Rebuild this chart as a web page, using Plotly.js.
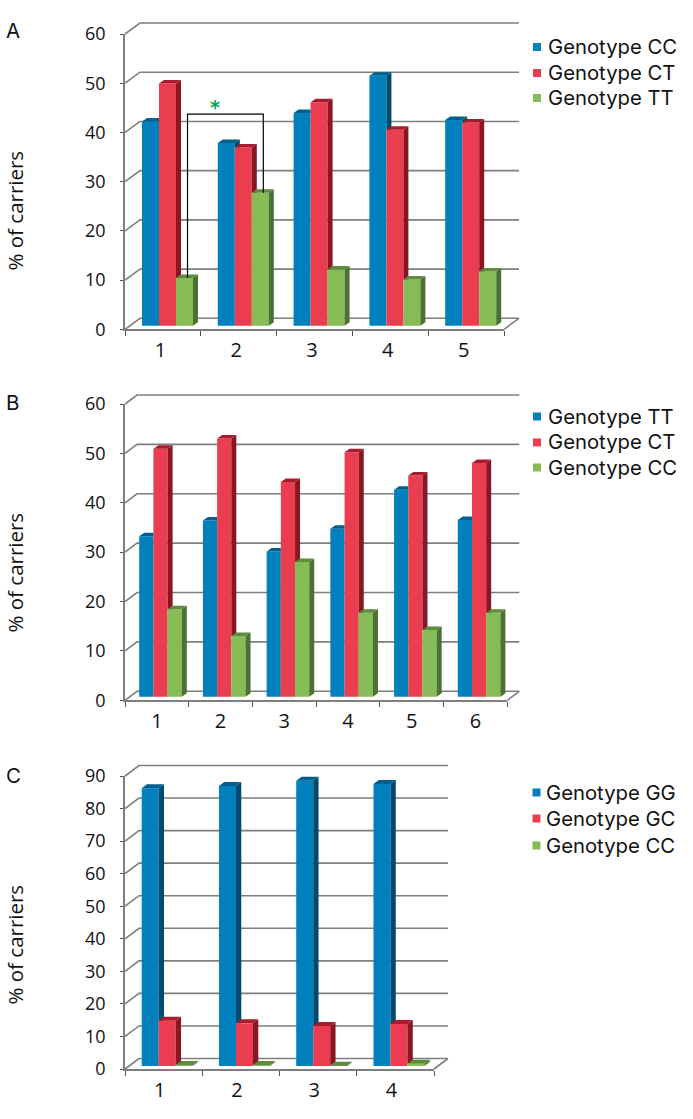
<!DOCTYPE html>
<html>
<head>
<meta charset="utf-8">
<script src="https://cdn.plot.ly/plotly-3.0.1.min.js"></script>
<style>html,body{margin:0;padding:0;background:#fff}</style>
</head>
<body>
<div id="chart" style="width:693px;height:1119px"></div>
<script>
// ---------- data ----------
const categoriesA = ['1','2','3','4','5'];
const namesA = ['Genotype CC','Genotype CT','Genotype TT'];
const valuesA_CC = [41.5,37.1,43.2,50.8,41.8];
const valuesA_CT = [49.2,36.2,45.4,39.8,41.3];
const valuesA_TT = [9.7,27.0,11.4,9.4,11.0];

const categoriesB = ['1','2','3','4','5','6'];
const namesB = ['Genotype TT','Genotype CT','Genotype CC'];
const valuesB_TT = [32.5,35.7,29.4,34.0,41.9,35.8];
const valuesB_CT = [50.2,52.3,43.5,49.5,44.8,47.3];
const valuesB_CC = [17.7,12.3,27.3,17.0,13.5,17.0];

const categoriesC = ['1','2','3','4'];
const namesC = ['Genotype GG','Genotype GC','Genotype CC'];
const valuesC_GG = [85.3,86.0,87.6,86.6];
const valuesC_GC = [13.9,13.1,12.3,12.9];
const valuesC_CC = [0.3,0.3,0.1,0.7];

const yTicksA = [0,10,20,30,40,50,60];
const yTicksB = [0,10,20,30,40,50,60];
const yTicksC = [0,10,20,30,40,50,60,70,80,90];

const panelLetters = ['A','B','C'];
const yTitle = '% of carriers';
const bracketLevelA = 43.0;   // height of the significance bracket, panel A
const bracketGroupsA = [0,1]; // compared groups (indices), panel A
const bracketStar = '*';

// ---------- styling / geometry ----------
const W = 693, H = 1119;
const front = ['#0080BC','#EA3D4F','#86BB55'];
const side  = ['#00496F','#8A1624','#4B7232'];
const top_  = ['#005F8E','#A81C2E','#5C8C3C'];
const GRID = '#7f7f7f', TICK = '#555555';
const yTickFont = {family:'"Open Sans", sans-serif', size:18, color:'#111'};
const xTickFont = {family:'"Open Sans", sans-serif', size:20, color:'#111'};
const legendFont = {family:'Inter, sans-serif', size:20.3, color:'#111'};

const panels = [
 {cats:categoriesA,names:namesA,vals:[valuesA_CC,valuesA_CT,valuesA_TT],ticks:yTicksA,
  L:125,R:504,Y0:329.3,Ytop:34,wallDx:15,wallDy:11,barW:17,shift:4.6,base:3.6,dDx:5,dDy:3.5,labelShift:-2.5,
  legX:533,legTextX:547,legY:[46.5,72.5,97.5],titleY:211,letterY:31},
 {cats:categoriesB,names:namesB,vals:[valuesB_TT,valuesB_CT,valuesB_CC],ticks:yTicksB,
  L:125,R:507.3,Y0:700.3,Ytop:404,wallDx:12,wallDy:9,barW:14.2,shift:3.65,base:3.6,dDx:5,dDy:3.5,labelShift:0,
  legX:533,legTextX:547,legY:[416,442,467],titleY:573,letterY:403},
 {cats:categoriesC,names:namesC,vals:[valuesC_GG,valuesC_GC,valuesC_CC],ticks:yTicksC,
  L:125,R:434,Y0:1069,Ytop:776,wallDx:14,wallDy:10.5,barW:17,shift:3.6,base:3,dDx:5.3,dDy:4,labelShift:-4,
  legX:532.5,legTextX:545,legY:[792,818,845],titleY:945,letterY:775}
];

const traces = [], layout = {
  width:W, height:H, margin:{l:0,r:0,t:0,b:0}, showlegend:false,
  barmode:'overlay', paper_bgcolor:'#fff', plot_bgcolor:'rgba(0,0,0,0)',
  annotations:[], shapes:[]
};
const px = x => x/W, py = y => 1-y/H;

panels.forEach((p,idx)=>{
  const n = p.cats.length, yMax = p.ticks[p.ticks.length-1];
  const ax = idx===0 ? '' : String(idx+1);
  const sx = (p.R-p.L)/n, sy = (p.Y0-p.Ytop)/yMax;
  const xRange = [0.5,n+0.5];
  const catVals = p.cats.map((c,i)=>i+1);
  const bounds = []; for(let i=0;i<=n;i++) bounds.push(i+0.5);

  layout['xaxis'+ax] = {
    domain:[px(p.L),px(p.R)], range:xRange, anchor:'y'+ax, zeroline:false, showgrid:false,
    showline:true, linecolor:GRID, linewidth:1.5, fixedrange:true,
    tickmode:'array', tickvals:catVals.map(c=>c+p.labelShift/sx), ticktext:p.cats, ticks:'', tickfont:xTickFont, ticklabelstandoff:2,
    minor:{tickmode:'array', tickvals:bounds, ticks:'outside', ticklen:5, tickwidth:1, tickcolor:TICK, showgrid:false}
  };
  layout['yaxis'+ax] = {
    domain:[py(p.Y0),py(p.Ytop)], range:[0,yMax], anchor:'x'+ax, zeroline:false, showgrid:false,
    showline:true, linecolor:GRID, linewidth:1.5, fixedrange:true,
    tickmode:'array', tickvals:p.ticks, ticktext:p.ticks.map(String), ticks:'outside', ticklen:3, tickwidth:1, tickcolor:TICK,
    tickfont:yTickFont, ticklabelstandoff:11
  };

  // back wall, side wall and floor, placed from the tick values
  const wallLine = {color:GRID,width:1.6};
  p.ticks.forEach(t=>{
    const yF = p.Y0-t*sy, yB = yF-p.wallDy;
    layout.shapes.push({type:'path',xref:'paper',yref:'paper',layer:'below',line:wallLine,
      path:`M${px(p.L)},${py(yF)} L${px(p.L+p.wallDx)},${py(yB)} L${px(p.R+p.wallDx)},${py(yB)}`});
  });
  layout.shapes.push({type:'line',xref:'paper',yref:'paper',layer:'below',line:wallLine,
    x0:px(p.R),y0:py(p.Y0),x1:px(p.R+p.wallDx),y1:py(p.Y0-p.wallDy)});

  // 3D bars
  const w = p.barW/sx, dx = p.dDx/sx, dy = p.dDy/sy, base = p.base/sy, sh = p.shift/sx;
  const xa = 'x'+ax, ya = 'y'+ax;
  const leftOf = (k,s) => (k+1)+sh+(s-1.5)*w;
  p.vals.forEach((vals,s)=>{
    traces.push({type:'bar',name:p.names[s],x:catVals.map((c,k)=>leftOf(k,s)+w/2),y:vals,base:base,width:w,
      xaxis:xa,yaxis:ya,marker:{color:front[s],line:{width:0}},hoverinfo:'y+name',showlegend:false});
  });
  p.vals.forEach((vals,s)=>{
    const next = p.vals[s+1];
    const sX=[],sY=[],tX=[],tY=[];
    vals.forEach((v,k)=>{
      const xl=leftOf(k,s), xr=xl+w, T=base+v;
      const L = next ? base+next[k] : base;
      if(T+dy>L){
        if(T>L){ sX.push(xr,xr,xr+dx,xr+dx,null); sY.push(L,T,T+dy,Math.max(L,base+dy),null); }
        else { const f=(L-T)/dy; sX.push(xr+f*dx,xr+dx,xr+dx,null); sY.push(L,T+dy,L,null); }
      }
      if(next && L>T){ tX.push(xl,xr,xr,xl+dx,null); tY.push(T,T,T+dy,T+dy,null); }
      else { tX.push(xl,xr,xr+dx,xl+dx,null); tY.push(T,T,T+dy,T+dy,null); }
    });
    traces.push({type:'scatter',mode:'none',x:sX,y:sY,fill:'toself',fillcolor:side[s],xaxis:xa,yaxis:ya,hoverinfo:'skip',showlegend:false});
    traces.push({type:'scatter',mode:'none',x:tX,y:tY,fill:'toself',fillcolor:top_[s],xaxis:xa,yaxis:ya,hoverinfo:'skip',showlegend:false});
  });

  // legend
  p.names.forEach((nm,s)=>{
    layout.shapes.push({type:'rect',xref:'paper',yref:'paper',x0:px(p.legX),x1:px(p.legX+8),
      y0:py(p.legY[s]+4.5),y1:py(p.legY[s]-3.5),fillcolor:front[s],line:{width:0}});
    layout.annotations.push({xref:'paper',yref:'paper',x:px(p.legTextX),y:py(p.legY[s]),xanchor:'left',yanchor:'middle',
      text:nm,showarrow:false,font:legendFont,borderpad:0});
  });
  // panel letter and y title
  layout.annotations.push({xref:'paper',yref:'paper',x:px(5),y:py(p.letterY),xanchor:'left',yanchor:'middle',
    text:panelLetters[idx],showarrow:false,font:{family:'Inter, sans-serif',size:20.5,color:'#111'},borderpad:0});
  layout.annotations.push({xref:'paper',yref:'paper',x:px(14.5),y:py(p.titleY),xanchor:'center',yanchor:'middle',textangle:-90,
    text:yTitle,showarrow:false,font:{family:'"Open Sans", sans-serif',size:20.5,color:'#111'},borderpad:0});

  // significance bracket, panel A
  if(idx===0){
    const g=2, off=3/sx, v=p.vals[g];
    const a=bracketGroupsA[0], b=bracketGroupsA[1];
    const xA=leftOf(a,g)+w/2+off, xB=leftOf(b,g)+w/2+off;
    traces.push({type:'scatter',mode:'lines',x:[xA,xA,xB,xB],
      y:[base+v[a],base+bracketLevelA,base+bracketLevelA,base+v[b]],
      xaxis:xa,yaxis:ya,line:{color:'#000',width:1.2},hoverinfo:'skip',showlegend:false});
    layout.annotations.push({xref:xa,yref:ya,x:(xA+xB)/2,y:base+bracketLevelA,xanchor:'center',yanchor:'bottom',yshift:-5,xshift:-10,
      text:'<b>'+bracketStar+'</b>',showarrow:false,font:{family:'"DejaVu Sans", sans-serif',size:19,color:'#00A651'},borderpad:0});
  }
});

Plotly.newPlot('chart',traces,layout,{displayModeBar:false,responsive:false});
</script>
</body>
</html>
